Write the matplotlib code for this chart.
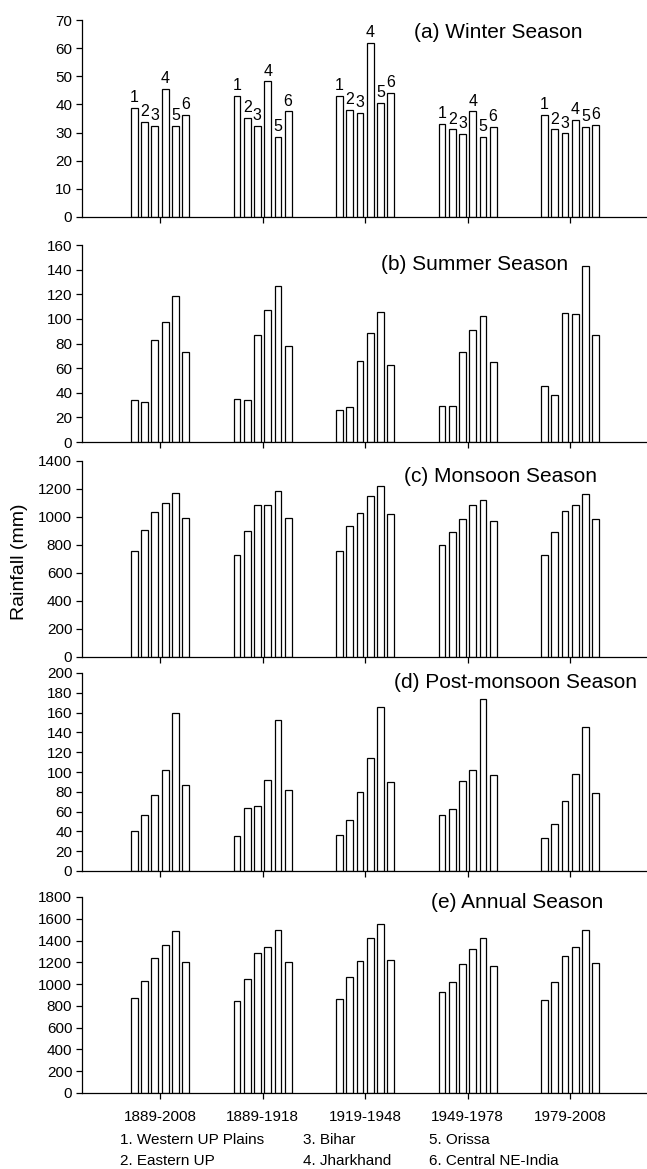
import numpy as np
import matplotlib
matplotlib.use("Agg")
import matplotlib.pyplot as plt

plt.rcParams['font.family'] = ['Liberation Sans', 'DejaVu Sans']

periods = ['1889-2008', '1889-1918', '1919-1948', '1949-1978', '1979-2008']
regions = ['1. Western UP Plains', '2. Eastern UP', '3. Bihar',
           '4. Jharkhand', '5. Orissa', '6. Central NE-India']

# rainfall (mm), one row per period, columns = regions 1..6
winter = [[38.9, 33.9, 32.3, 45.4, 32.5, 36.4],
          [43.1, 35.2, 32.5, 48.2, 28.6, 37.5],
          [43.1, 38.1, 36.9, 61.9, 40.6, 44.0],
          [33.2, 31.1, 29.4, 37.5, 28.6, 31.9],
          [36.3, 31.1, 29.7, 34.6, 31.9, 32.7]]
summer = [[34.1, 32.4, 82.7, 97.3, 118.9, 73.5],
          [35.1, 34.1, 87.0, 107.3, 126.5, 77.8],
          [25.9, 28.6, 65.9, 88.4, 105.7, 62.4],
          [29.5, 29.5, 73.0, 90.8, 102.2, 65.1],
          [45.7, 38.1, 104.9, 104.1, 142.7, 86.8]]
monsoon = [[754, 906, 1034, 1103, 1174, 996],
           [731, 901, 1087, 1087, 1184, 996],
           [754, 935, 1030, 1148, 1224, 1018],
           [800, 890, 987, 1087, 1120, 975],
           [731, 894, 1041, 1087, 1167, 985]]
postmonsoon = [[40.2, 56.4, 76.4, 102.0, 159.5, 86.5],
               [35.5, 63.2, 65.2, 92.2, 152.7, 81.8],
               [36.5, 52.0, 79.4, 113.9, 165.5, 89.9],
               [56.4, 62.2, 90.5, 102.0, 173.6, 97.0],
               [33.4, 47.6, 70.6, 98.0, 145.6, 79.0]]
annual = [[872, 1031, 1237, 1356, 1488, 1200],
          [848, 1047, 1283, 1338, 1494, 1200],
          [866, 1062, 1215, 1423, 1549, 1221],
          [924, 1016, 1188, 1322, 1426, 1169],
          [851, 1016, 1258, 1338, 1494, 1190]]

panels = [
    ('(a) Winter Season', winter, 70, 10, (20, 217), (414, 32)),
    ('(b) Summer Season', summer, 160, 20, (245, 442), (381, 265)),
    ('(c) Monsoon Season', monsoon, 1400, 200, (461, 657), (404, 477)),
    ('(d) Post-monsoon Season', postmonsoon, 200, 20, (673, 871), (394, 683)),
    ('(e) Annual Season', annual, 1800, 200, (897, 1093), (431, 902)),
]

W, H = 647, 1169
fig = plt.figure(figsize=(W / 100, H / 100), dpi=100)

x = np.arange(len(periods))
ax_left = 82 / W
for k, (title, data, ymax, step, (top, bot), (tx, ty)) in enumerate(panels):
    ax = fig.add_axes([ax_left, 1 - bot / H, 1 - ax_left, (bot - top) / H])
    data = np.array(data)
    for i in range(6):
        bars = ax.bar(x + (i - 2.5) * 0.1, data[:, i], width=0.066,
                      color='white', edgecolor='black', linewidth=0.9)
        if k == 0:
            for b in bars:
                ax.annotate(str(i + 1), (b.get_x() + b.get_width() / 2, b.get_height()),
                            xytext=(0, 2), textcoords='offset points',
                            ha='center', va='bottom', fontsize=11.5)
    ax.set_xlim(-0.761, 4.751)
    ax.set_ylim(0, ymax)
    ax.set_yticks(np.arange(0, ymax + 1, step))
    ax.set_xticks(x)
    if k == 4:
        ax.set_xticklabels(periods, fontsize=11, family=['Liberation Sans', 'DejaVu Sans'])
    else:
        ax.set_xticklabels([])
    for s in ['top', 'right']:
        ax.spines[s].set_visible(False)
    ax.spines['left'].set_linewidth(0.9)
    ax.spines['bottom'].set_linewidth(0.9)
    ax.tick_params(axis='both', direction='out', length=4, width=0.9, labelsize=11, pad=3)
    ax.tick_params(axis='x', pad=8)
    ax.patch.set_alpha(0)
    fig.text(tx / W, 1 - ty / H, title, ha='left', va='center', fontsize=15)

fig.text(20 / W, 1 - 562 / H, 'Rainfall (mm)', rotation=90, ha='center', va='center', fontsize=14)

# region key below the chart
cols = [(120, regions[0:2]), (303, regions[2:4]), (429, regions[4:6])]
for cx, names in cols:
    for j, name in enumerate(names):
        fig.text(cx / W, 1 - (1140 + j * 21) / H, name, ha='left', va='center', fontsize=11)

fig.savefig('out.png', dpi=100)
